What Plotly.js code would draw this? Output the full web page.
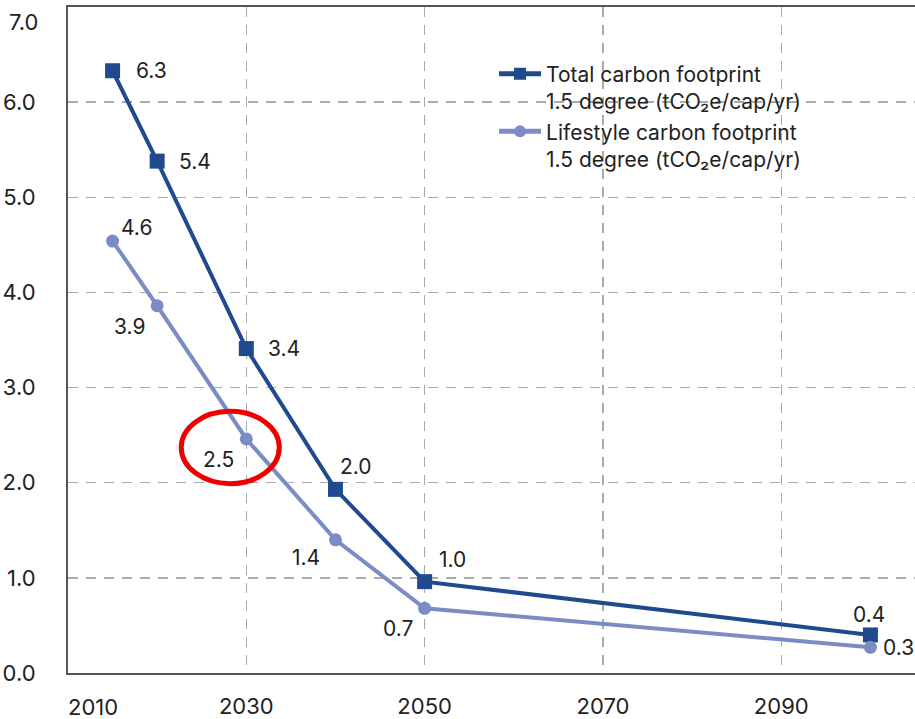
<!DOCTYPE html>
<html>
<head>
<meta charset="utf-8">
<script src="https://cdn.plot.ly/plotly-3.0.1.min.js"></script>
<style>html,body{margin:0;padding:0;background:#fff;}#chart{width:915px;height:719px;}</style>
</head>
<body>
<div id="chart"></div>
<script>
const years = [2015, 2020, 2030, 2040, 2050, 2100];
const totalValues = [6.33, 5.38, 3.41, 1.93, 0.96, 0.40];
const totalLabels = ["6.3", "5.4", "3.4", "2.0", "1.0", "0.4"];
const lifestyleValues = [4.54, 3.86, 2.46, 1.40, 0.68, 0.27];
const lifestyleLabels = ["4.6", "3.9", "2.5", "1.4", "0.7", "0.3"];
const xTicks = [2010, 2030, 2050, 2070, 2090];
const yTicks = [0, 1, 2, 3, 4, 5, 6, 7];
const seriesNames = ["Total carbon footprint<br>1.5 degree (tCO₂e/cap/yr)",
                     "Lifestyle carbon footprint<br>1.5 degree (tCO₂e/cap/yr)"];

const FONT = "Inter, 'Noto Sans', sans-serif";
const dark = "#1f4b8e";
const light = "#7b8cc4";
const textColor = "#222";

// label placement styles (anchor, pixel shifts) per point
const totalLabelStyle = [
  {xa: "left", dx: 21, dy: 0}, {xa: "left", dx: 20, dy: 0}, {xa: "left", dx: 20, dy: 0},
  {xa: "left", dx: 3, dy: 23}, {xa: "left", dx: 12, dy: 22}, {xa: "center", dx: -1, dy: 20}
];
const lifestyleLabelStyle = [
  {xa: "left", dx: 6, dy: 14}, {xa: "right", dx: -10, dy: -21}, {xa: "right", dx: -10, dy: -21},
  {xa: "right", dx: -13, dy: -18}, {xa: "right", dx: -10, dy: -20}, {xa: "left", dx: 11, dy: 0}
];

function labelAnnotations(xs, ys, labels, styles) {
  return labels.map((t, i) => ({
    x: xs[i], y: ys[i], xref: "x", yref: "y", text: t, showarrow: false,
    xanchor: styles[i].xa, yanchor: "middle", xshift: styles[i].dx, yshift: styles[i].dy,
    font: {family: FONT, size: 21, color: textColor}
  }));
}

const traces = [
  {
    x: years, y: totalValues, name: seriesNames[0], type: "scatter", mode: "lines+markers",
    line: {color: dark, width: 4},
    marker: {symbol: "square", size: 15, color: dark},
    cliponaxis: false
  },
  {
    x: years, y: lifestyleValues, name: seriesNames[1], type: "scatter", mode: "lines+markers",
    line: {color: light, width: 4},
    marker: {symbol: "circle", size: 13, color: light},
    cliponaxis: false
  }
];

const tickFont = {family: FONT, size: 22, color: textColor};
const annotations = []
  .concat(labelAnnotations(years, totalValues, totalLabels, totalLabelStyle))
  .concat(labelAnnotations(years, lifestyleValues, lifestyleLabels, lifestyleLabelStyle))
  .concat([
    // edge tick labels, nudged inside the picture as in the reference
    {x: xTicks[0], xref: "x", y: 0, yref: "paper", text: String(xTicks[0]), showarrow: false,
     xanchor: "center", yanchor: "middle", xshift: 25, yshift: -34, font: tickFont},
    {x: 0, xref: "paper", y: yTicks[yTicks.length - 1], yref: "y",
     text: yTicks[yTicks.length - 1].toFixed(1), showarrow: false,
     xanchor: "right", yanchor: "middle", xshift: -28, yshift: -15, font: tickFont}
  ]);

// highlight ellipse around the 2030 lifestyle label
const hx = years[2], hy = lifestyleValues[2];
const layout = {
  width: 915, height: 719,
  margin: {l: 68, r: 0, t: 7, b: 46},
  paper_bgcolor: "#fff", plot_bgcolor: "#fff",
  font: {family: FONT, size: 20, color: textColor},
  showlegend: true,
  legend: {
    x: 0.503, y: 0.93, xanchor: "left", yanchor: "top",
    font: {family: FONT, size: 21, color: textColor},
    bgcolor: "rgba(0,0,0,0)", valign: "top", tracegroupgap: 0,
    itemwidth: 42, itemsizing: "constant"
  },
  xaxis: {
    range: [2010, 2105], tickvals: xTicks.slice(1), ticktext: xTicks.slice(1).map(String),
    showgrid: true, gridcolor: "#aaaaaa", griddash: "10px,8px", gridwidth: 1.5,
    showline: true, linecolor: "#555", linewidth: 2, mirror: true,
    zeroline: false, ticks: "", ticklabelstandoff: 13,
    tickfont: tickFont
  },
  yaxis: {
    range: [0, 7], tickvals: yTicks.slice(0, -1), ticktext: yTicks.slice(0, -1).map(v => v.toFixed(1)),
    showgrid: true, gridcolor: "#aaaaaa", griddash: "10px,8px", gridwidth: 1.5,
    showline: true, linecolor: "#555", linewidth: 2,
    zeroline: false, ticks: "", ticklabelstandoff: 26,
    tickfont: tickFont
  },
  annotations: annotations,
  shapes: [{
    type: "circle", xref: "x", yref: "y",
    x0: hx - 7.3, x1: hx + 3.7, y0: hy - 0.47, y1: hy + 0.29,
    line: {color: "#ee0000", width: 5}, fillcolor: "rgba(0,0,0,0)"
  }]
};

Plotly.newPlot("chart", traces, layout, {displayModeBar: false, staticPlot: true});
</script>
</body>
</html>
